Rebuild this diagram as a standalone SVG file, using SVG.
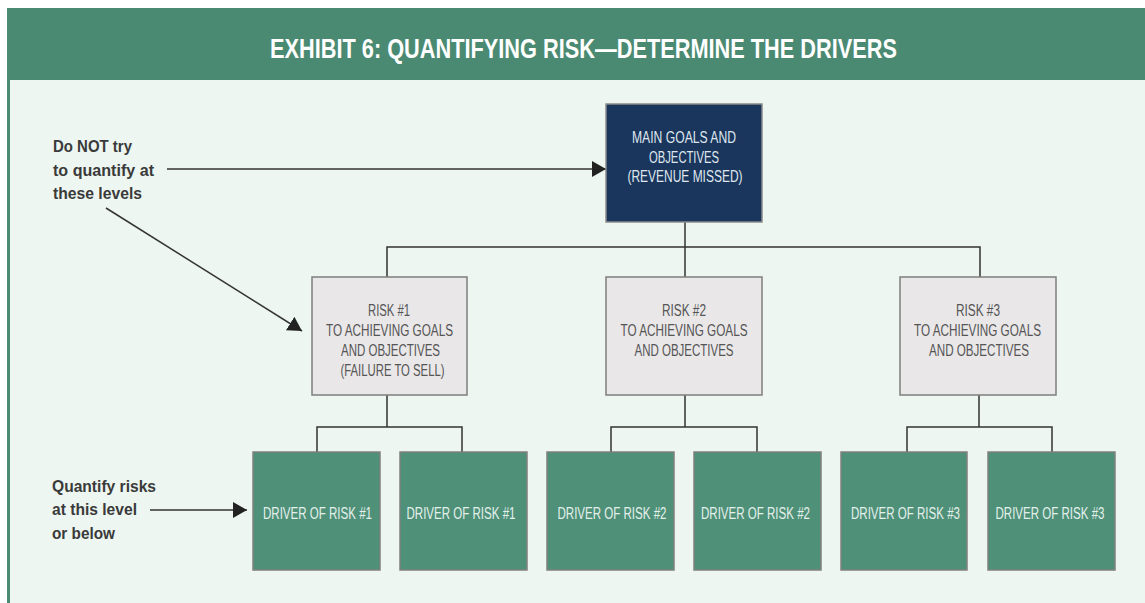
<svg xmlns="http://www.w3.org/2000/svg" width="1145" height="603" viewBox="0 0 1145 603">
<style>
.t{font-family:"Liberation Sans",Arial,sans-serif}
.lbl{font-size:17px;font-weight:bold;fill:#3a3a3a}
.bx{font-size:16px;text-anchor:middle}
.main rect{fill:#1b365d;stroke:#8a8a8a;stroke-width:1.5}
.main text{fill:#dfe6ee}
.risk rect{fill:#e9e7e8;stroke:#7f7f7f;stroke-width:1.5}
.risk text{fill:#555}
.drv rect{fill:#4f9079;stroke:#808080;stroke-width:1.5}
.drv text{fill:#e4f0eb}
.con path{fill:none;stroke:#333;stroke-width:1.5}
</style>
<defs>
<marker id="ah2" viewBox="0 0 14 16" refX="14" refY="8" markerWidth="14" markerHeight="16" markerUnits="userSpaceOnUse" orient="auto"><path d="M0,0 L14,8 L0,16 Z" fill="#222"/></marker>
</defs>
<rect x="0" y="0" width="1145" height="603" fill="#ffffff"/>
<rect x="7" y="8" width="1150" height="600" fill="#4a8a73"/>
<rect x="10" y="80" width="1140" height="530" fill="#edf6f1"/>
<text class="t" x="583.5" y="58.3" text-anchor="middle" font-size="28.5" font-weight="bold" fill="#ffffff" textLength="627" lengthAdjust="spacingAndGlyphs">EXHIBIT 6: QUANTIFYING RISK—DETERMINE THE DRIVERS</text>

<g id="note-top">
<text class="t lbl" x="53" y="152" textLength="79" lengthAdjust="spacingAndGlyphs">Do NOT try</text>
<text class="t lbl" x="53" y="175.5" textLength="101" lengthAdjust="spacingAndGlyphs">to quantify at</text>
<text class="t lbl" x="53" y="199" textLength="89" lengthAdjust="spacingAndGlyphs">these levels</text>
</g>
<g id="note-bottom">
<text class="t lbl" x="52" y="492" textLength="104" lengthAdjust="spacingAndGlyphs">Quantify risks</text>
<text class="t lbl" x="52" y="515" textLength="85" lengthAdjust="spacingAndGlyphs">at this level</text>
<text class="t lbl" x="52" y="538.5" textLength="63" lengthAdjust="spacingAndGlyphs">or below</text>
</g>

<g class="con" id="connectors">
<path d="M167,169 H606" marker-end="url(#ah2)"/>
<path d="M106,208 L302,331" marker-end="url(#ah2)"/>
<path d="M150,510 H247" marker-end="url(#ah2)"/>
<path d="M685,222 V277"/>
<path d="M387,277 V247 H980 V277"/>
<path d="M387,395 V427 M317,452 V427 H462 V452"/>
<path d="M685,395 V427 M611,452 V427 H757 V452"/>
<path d="M979,395 V427 M907,452 V427 H1052 V452"/>
</g>

<g id="main" class="main">
<rect x="606" y="104" width="156" height="118"/>
<text class="t bx" x="684" y="143" textLength="104" lengthAdjust="spacingAndGlyphs">MAIN GOALS AND</text>
<text class="t bx" x="684" y="162.5" textLength="70" lengthAdjust="spacingAndGlyphs">OBJECTIVES</text>
<text class="t bx" x="685" y="182" textLength="115" lengthAdjust="spacingAndGlyphs">(REVENUE MISSED)</text>
</g>

<g id="risk1" class="risk">
<rect x="312" y="277" width="155" height="118"/>
<text class="t bx" x="389" y="315.5" textLength="42" lengthAdjust="spacingAndGlyphs">RISK #1</text>
<text class="t bx" x="389.5" y="335.5" textLength="127" lengthAdjust="spacingAndGlyphs">TO ACHIEVING GOALS</text>
<text class="t bx" x="390.5" y="355.5" textLength="99" lengthAdjust="spacingAndGlyphs">AND OBJECTIVES</text>
<text class="t bx" x="392.5" y="376" textLength="104" lengthAdjust="spacingAndGlyphs">(FAILURE TO SELL)</text>
</g>
<g id="risk2" class="risk">
<rect x="606" y="277" width="156" height="118"/>
<text class="t bx" x="684" y="315.5" textLength="44" lengthAdjust="spacingAndGlyphs">RISK #2</text>
<text class="t bx" x="684" y="335.5" textLength="127" lengthAdjust="spacingAndGlyphs">TO ACHIEVING GOALS</text>
<text class="t bx" x="684" y="355.5" textLength="99" lengthAdjust="spacingAndGlyphs">AND OBJECTIVES</text>
</g>
<g id="risk3" class="risk">
<rect x="900" y="277" width="156" height="118"/>
<text class="t bx" x="978" y="315.5" textLength="44" lengthAdjust="spacingAndGlyphs">RISK #3</text>
<text class="t bx" x="977.5" y="335.5" textLength="127" lengthAdjust="spacingAndGlyphs">TO ACHIEVING GOALS</text>
<text class="t bx" x="979" y="355.5" textLength="100" lengthAdjust="spacingAndGlyphs">AND OBJECTIVES</text>
</g>

<g id="driver1a" class="drv"><rect x="253" y="452" width="127" height="118"/><text class="t bx" x="317.5" y="518.5" textLength="109" lengthAdjust="spacingAndGlyphs">DRIVER OF RISK #1</text></g>
<g id="driver1b" class="drv"><rect x="400" y="452" width="127" height="118"/><text class="t bx" x="461" y="518.5" textLength="109" lengthAdjust="spacingAndGlyphs">DRIVER OF RISK #1</text></g>
<g id="driver2a" class="drv"><rect x="547" y="452" width="127" height="118"/><text class="t bx" x="612" y="518.5" textLength="109" lengthAdjust="spacingAndGlyphs">DRIVER OF RISK #2</text></g>
<g id="driver2b" class="drv"><rect x="694" y="452" width="127" height="118"/><text class="t bx" x="755.5" y="518.5" textLength="109" lengthAdjust="spacingAndGlyphs">DRIVER OF RISK #2</text></g>
<g id="driver3a" class="drv"><rect x="841" y="452" width="126" height="118"/><text class="t bx" x="905.5" y="518.5" textLength="109" lengthAdjust="spacingAndGlyphs">DRIVER OF RISK #3</text></g>
<g id="driver3b" class="drv"><rect x="988" y="452" width="127" height="118"/><text class="t bx" x="1050" y="518.5" textLength="109" lengthAdjust="spacingAndGlyphs">DRIVER OF RISK #3</text></g>
</svg>
